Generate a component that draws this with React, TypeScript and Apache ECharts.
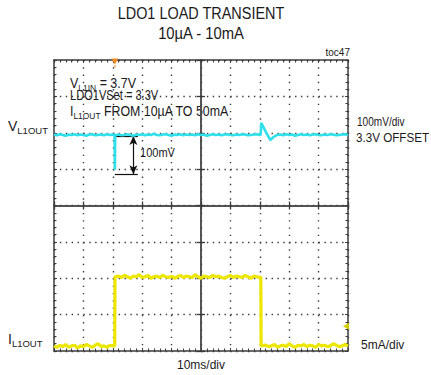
import React, { useEffect, useRef } from "react";
import * as echarts from "echarts";

// ---- data ----
const titleLines = ["LDO1 LOAD TRANSIENT", "10µA - 10mA"];
const timeRange = [0, 100]; // ms (10 ms/div)
const timeStep = 10;
const voltRange = [-600, 200]; // mV deviation from 3.3V (100 mV/div)
const voltStep = 100;
const currRange = [-0.6, 39.4]; // mA (5 mA/div)

// VL1OUT deviation (mV)
const vTime = [
  0, 1, 2, 3, 4, 5, 6, 7, 8, 9, 10, 11, 12, 13, 14, 15, 16, 17, 18, 19, 20,
  20.6, 20.7, 20.8,
  22, 23, 24, 25, 26, 27, 28, 29, 30, 31, 32, 33, 34, 35, 36, 37, 38, 39, 40, 41, 42, 43, 44, 45,
  46, 47, 48, 49, 50, 51, 52, 53, 54, 55, 56, 57, 58, 59, 60, 61, 62, 63, 64, 65, 66, 67, 68, 69, 70,
  70.3, 70.5, 72, 73.6, 74.6, 75.9,
  77, 78, 79, 80, 81, 82, 83, 84, 85, 86, 87, 88, 89, 90, 91, 92, 93, 94, 95, 96, 97, 98, 99, 100,
];
const vOut = [
  -5, -7, -4, -6, -8, -5, -6, -4, -7, -5, -6, -8, -5, -4, -7, -6, -5, -7, -4, -6, -5,
  -6, -102, -7,
  -5, -7, -6, -4, -6, -8, -5, -6, -4, -7, -5, -6, -3, -6, -7, -5, -4, -6, -8, -5, -6, -4, -7, -5,
  -6, -5, -7, -4, -6, -5, -8, -6, -4, -6, -5, -7, -5, -4, -6, -7, -5, -6, -4, -5, -7, -6, -5, -4, -6,
  -6, 27, 3, -20, -12, -6,
  -5, -7, -4, -6, -5, -8, -6, -4, -6, -5, -7, -5, -4, -6, -7, -5, -6, -4, -5, -7, -6, -5, -4, -6,
];

// IL1OUT (mA)
const iTime = [
  0, 1, 2, 3, 4, 5, 6, 7, 8, 9, 10, 11, 12, 13, 14, 15, 16, 17, 18, 19, 20,
  20.65, 20.75,
  22, 23, 24, 25, 26, 27, 28, 29, 30, 31, 32, 33, 34, 35, 36, 37, 38, 39, 40, 41, 42, 43, 44, 45,
  46, 47, 48, 49, 50, 51, 52, 53, 54, 55, 56, 57, 58, 59, 60, 61, 62, 63, 64, 65, 66, 67, 68, 69, 70,
  70.35, 70.45,
  72, 73, 74, 75, 76, 77, 78, 79, 80, 81, 82, 83, 84, 85, 86, 87, 88, 89, 90, 91, 92, 93, 94, 95,
  96, 97, 98, 99, 100,
];
const iOut = [
  0.1, -0.1, 0.2, 0.0, 0.3, -0.1, 0.1, 0.2, -0.2, 0.1, 0.0, 0.3, 0.1, -0.1, 0.2, 0.4, 0.0, 0.1, -0.1, 0.2, 0.1,
  0.1, 9.6,
  9.7, 9.5, 9.8, 9.6, 9.4, 9.7, 9.6, 9.9, 9.5, 9.6, 9.8, 9.4, 9.6, 9.7, 9.5, 9.8, 9.6, 9.5, 9.7, 9.4, 9.6, 9.8, 9.5, 9.7,
  9.6, 9.5, 9.9, 9.6, 9.4, 9.7, 9.6, 9.5, 9.8, 9.6, 9.7, 9.5, 9.4, 9.6, 9.8, 9.5, 9.7, 9.6, 9.5, 9.8, 9.6, 9.4, 9.7, 9.6, 9.5,
  9.6, 0.1,
  0.2, 0.0, 0.1, 0.3, -0.1, 0.1, 0.2, 0.0, 0.4, 0.1, -0.1, 0.2, 0.1, 0.3, 0.0, 0.2, 0.1, -0.1, 0.3, 0.1, 0.2, 0.0, 0.1, 0.4,
  0.2, 0.0, 0.1, 0.3, 0.1,
];

// 100 mV annotation (ms, mV)
const annoX = [20.7, 28.5];
const annoTop = -9;
const annoBottom = -114;
const annoArrowX = 27;
// markers
const triggerTime = 20.7;
const currMarker = [99.3, 2.8];

const FONT = "'Liberation Sans', Arial, sans-serif";
const TXT = "#1a1a1a";
const BORDER = "#3c3c3c";
const CYAN = "#2fe0ea";
const YELLOW = "#ece600";

function hiddenAxis(extra: any) {
  return {
    type: "value",
    axisLabel: { show: false },
    splitLine: { show: false },
    axisTick: { show: false },
    minorTick: { show: false },
    axisLine: { show: false, onZero: false },
    ...extra,
  };
}

function edgeAxis(extra: any) {
  return {
    type: "value",
    axisLabel: { show: false },
    splitLine: { show: false },
    axisLine: { show: true, onZero: false, lineStyle: { color: BORDER, width: 1.5 } },
    axisTick: { show: true, inside: true, length: 3, lineStyle: { color: BORDER, width: 1 } },
    minorTick: { show: true, splitNumber: 5, length: 2.5, lineStyle: { color: BORDER, width: 1 } },
    ...extra,
  };
}

function centerAxis(extra: any, inside: boolean, zeroIdx: number) {
  return {
    type: "value",
    axisLabel: { show: false },
    splitLine: { show: false },
    minorTick: { show: false },
    axisLine: { show: true, onZero: true, onZeroAxisIndex: zeroIdx, lineStyle: { color: "#4a4a4a", width: 1.5 } },
    axisTick: { show: true, inside, length: 4, lineStyle: { color: "#3a3a3a", width: 1.3 } },
    ...extra,
  };
}

function plain(text: string, x: number, y: number, size: number, sx: number, align: string) {
  return {
    type: "text",
    x,
    y,
    scaleX: sx,
    style: {
      text,
      font: `${size}px ${FONT}`,
      fill: TXT,
      align,
      verticalAlign: "middle",
      textAlign: align,
      textVerticalAlign: "middle",
    },
  };
}

function subbed(main: string, sub: string, rest: string, x: number, y: number, sx: number) {
  return {
    type: "text",
    x,
    y,
    scaleX: sx,
    style: {
      text: rest ? `{m|${main}}{s|${sub}}{m|${rest}}` : `{m|${main}}{s|${sub}}`,
      rich: {
        m: { fontSize: 14, fontFamily: FONT, fill: TXT, color: TXT, verticalAlign: "bottom", padding: [0, 0, 2.5, 0] },
        s: { fontSize: 9.5, fontFamily: FONT, fill: TXT, color: TXT, verticalAlign: "bottom" },
      },
      align: "left",
      verticalAlign: "bottom",
      textAlign: "left",
      textVerticalAlign: "bottom",
    },
  };
}

export default function App() {
  const ref = useRef<HTMLDivElement>(null);
  useEffect(() => {
    if (!ref.current) return;
    const chart = echarts.init(ref.current, undefined, { renderer: "svg" });
    const vData = vTime.map((t, i) => [t, vOut[i]]);
    const iData = iTime.map((t, i) => [t, iOut[i]]);
    const xr = { min: timeRange[0], max: timeRange[1], interval: timeStep };
    const vr = { min: voltRange[0], max: voltRange[1], interval: voltStep };

    const texts: any[] = [
      plain(titleLines[0], 201, 13, 17, 0.85, "center"),
      plain(titleLines[1], 201, 33.5, 17, 0.87, "center"),
      plain("toc47", 350, 52, 10, 1, "right"),
      subbed("V", "L1IN", " = 3.7V", 70, 93, 0.89),
      plain("LDO1VSet = 3.3V", 70, 96, 14, 0.79, "left"),
      subbed("I", "L1OUT", " FROM 10µA TO 50mA", 70, 121, 0.885),
      subbed("V", "L1OUT", "", 8, 135.5, 1),
      subbed("I", "L1OUT", "", 8, 348.5, 1),
      plain("100mV", 140, 153, 12, 0.92, "left"),
      plain("100mV/div", 357, 122, 12, 0.84, "left"),
      plain("3.3V OFFSET", 356, 138, 12, 0.97, "left"),
      plain("5mA/div", 361, 345, 12, 1, "left"),
      plain("10ms/div", 201, 365, 12, 1, "center"),
    ];

    chart.setOption({
      animation: false,
      backgroundColor: "#ffffff",
      grid: { left: 54, top: 60, right: 83, bottom: 24, containLabel: false, outerBoundsMode: "none" },
      xAxis: [
        edgeAxis({
          ...xr,
          position: "bottom",
          splitLine: { show: true, lineStyle: { color: "#3a3a3a", width: 1.4, type: [1.4, 5.88] } },
        }),
        edgeAxis({ ...xr, position: "top" }),
        centerAxis({ ...xr, position: "bottom" }, true, 3),
        centerAxis({ ...xr, position: "bottom" }, false, 3),
        hiddenAxis({ min: -5, max: 5, position: "bottom" }),
      ],
      yAxis: [
        edgeAxis({
          ...vr,
          position: "left",
          splitLine: { show: true, lineStyle: { color: "#3a3a3a", width: 1.4, type: [1.4, 4.48] } },
        }),
        edgeAxis({ ...vr, position: "right" }),
        hiddenAxis({ min: currRange[0], max: currRange[1], position: "left" }),
        hiddenAxis({ min: -4, max: 4, position: "left" }),
        centerAxis({ ...vr, position: "left" }, true, 4),
        centerAxis({ ...vr, position: "left" }, false, 4),
      ],
      series: [
        {
          type: "line",
          name: "IL1OUT",
          xAxisIndex: 0,
          yAxisIndex: 2,
          data: iData,
          showSymbol: false,
          symbol: "none",
          lineStyle: { color: YELLOW, width: 3.2 },
          z: 5,
          markPoint: {
            silent: true,
            label: { show: false },
            data: [
              { coord: currMarker, symbol: "triangle", symbolRotate: 90, symbolSize: [7, 6], itemStyle: { color: "#d6cf00" } },
            ],
          },
        },
        {
          type: "line",
          name: "VL1OUT",
          xAxisIndex: 0,
          yAxisIndex: 0,
          data: vData,
          showSymbol: false,
          symbol: "none",
          lineStyle: { color: CYAN, width: 2.6 },
          z: 6,
          markLine: {
            silent: true,
            symbol: "none",
            label: { show: false },
            lineStyle: { color: "#111", width: 1.2, type: "solid" },
            data: [
              [{ coord: [annoX[0], annoTop] }, { coord: [annoX[1], annoTop] }],
              [{ coord: [annoX[0], annoBottom] }, { coord: [annoX[1], annoBottom] }],
              [
                { coord: [annoArrowX, annoTop], symbol: "arrow", symbolSize: [6, 9] },
                { coord: [annoArrowX, annoBottom], symbol: "arrow", symbolSize: [6, 9] },
              ],
            ],
          },
          markPoint: {
            silent: true,
            label: { show: false },
            data: [
              { coord: [triggerTime, voltRange[1] - 4], symbol: "triangle", symbolRotate: 180, symbolSize: [7, 6], itemStyle: { color: "#f08a24" } },
              { coord: [triggerTime, voltRange[1] - 17], symbol: "circle", symbolSize: 1.6, itemStyle: { color: "#f08a24" } },
            ],
          },
        },
      ],
      graphic: texts,
    });
    return () => chart.dispose();
  }, []);
  return <div ref={ref} style={{ position: "absolute", left: 0, top: 0, width: 431, height: 375 }} />;
}
